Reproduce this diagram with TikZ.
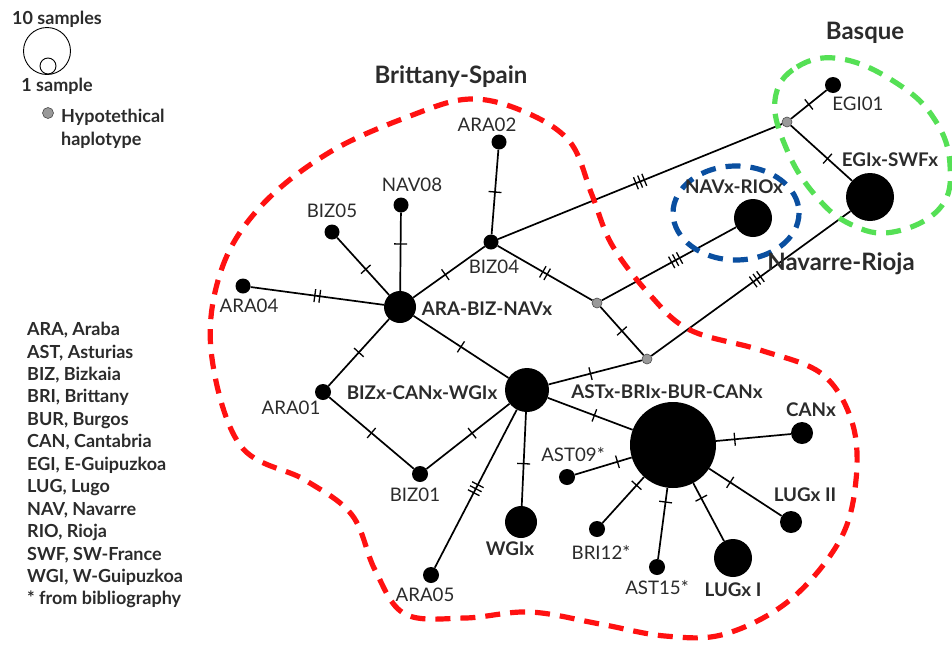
\documentclass[tikz,border=0pt]{standalone}
\usepackage{fontspec}
\setmainfont{Lato}
\usetikzlibrary{decorations.markings}
\definecolor{txt}{HTML}{2B2B2B}
\definecolor{regred}{HTML}{FF1111}
\definecolor{reggreen}{HTML}{55E055}
\definecolor{regblue}{HTML}{0A4FA0}
\pgfdeclarelayer{edgelayer}
\pgfdeclarelayer{regionlayer}
\pgfsetlayers{edgelayer,regionlayer,main}
\begin{document}
\begin{tikzpicture}[x=1pt,y=-1pt,
  hap/.style={circle,fill=black,inner sep=0pt,minimum size=#1},
  hyp/.style={circle,fill=black!40,draw=black!70,line width=0.6pt,inner sep=0pt,minimum size=10pt},
  ln/.style={line width=1.7pt},
  lab/.style={text=txt,font=\fontsize{18.7}{22}\selectfont,inner sep=0pt},
  blab/.style={text=txt,font=\bfseries\fontsize{18.8}{22}\selectfont,inner sep=0pt},
  reglab/.style={text=txt,font=\bfseries\fontsize{24}{28}\selectfont,inner sep=0pt},
  legtxt/.style={text=txt,font=\bfseries\fontsize{18}{22}\selectfont,inner sep=0pt},
  tkA/.style={postaction={decorate,decoration={markings,mark=at position #1 with {\draw[line width=1.3pt] (0,-6.5)--(0,6.5);}}}},
  tkA/.default=0.5,
  tkB/.style={postaction={decorate,decoration={markings,mark=at position #1 with {\draw[line width=1.3pt] (-2.5,-6.5)--(-2.5,6.5) (2.5,-6.5)--(2.5,6.5);}}}},
  tkB/.default=0.5,
  tkC/.style={postaction={decorate,decoration={markings,mark=at position #1 with {\draw[line width=1.3pt] (-4.5,-6.5)--(-4.5,6.5) (0,-6.5)--(0,6.5) (4.5,-6.5)--(4.5,6.5);}}}},
  tkC/.default=0.5,
  region/.style={line width=5.2pt,dash pattern=on 15pt off 10pt}
]
\useasboundingbox (0,0) rectangle (952,646);

% haplotype nodes
\node[hap=15pt] (ara02) at (499,142) {};
\node[hap=15pt] (nav08) at (401,205) {};
\node[hap=15pt] (biz05) at (332,232) {};
\node[hap=15pt] (ara04) at (243,286) {};
\node[hap=32pt] (abn) at (400,307) {};
\node[hap=15pt] (biz04) at (491,242) {};
\node[hyp] (h1) at (597,303) {};
\node[hyp] (h2) at (647,359) {};
\node[hyp] (h3) at (787,122) {};
\node[hap=16pt] (egi01) at (833,85) {};
\node[hap=48pt] (egix) at (870,197) {};
\node[hap=38pt] (navrio) at (753,218) {};
\node[hap=16pt] (ara01) at (323,392) {};
\node[hap=44pt] (bcw) at (527,390) {};
\node[hap=16pt] (biz01) at (420,474) {};
\node[hap=16pt] (ara05) at (431,575) {};
\node[hap=32pt] (wgix) at (521,522) {};
\node[hap=86pt] (abbc) at (673,445) {};
\node[hap=22pt] (canx) at (802,433) {};
\node[hap=22pt] (lug2) at (791,522) {};
\node[hap=38pt] (lug1) at (733,558) {};
\node[hap=16pt] (ast15) at (657,567) {};
\node[hap=16pt] (bri12) at (597,529) {};
\node[hap=16pt] (ast09) at (567,477) {};

% edges
\begin{pgfonlayer}{edgelayer}
\draw[ln,tkA] (biz04) -- (ara02);
\draw[ln,tkA=0.6] (abn) -- (nav08);
\draw[ln,tkA=0.45] (abn) -- (biz05);
\draw[ln,tkB] (abn) -- (ara04);
\draw[ln,tkA=0.45] (abn) -- (biz04);
\draw[ln,tkC] (biz04) -- (h3);
\draw[ln,tkB] (biz04) -- (h1);
\draw[ln,tkC=0.55] (h1) -- (navrio);
\draw[ln,tkA] (h1) -- (h2);
\draw[ln,tkC=0.53] (h2) -- (egix);
\draw[ln,tkA] (h3) -- (egi01);
\draw[ln,tkA=0.6] (h3) -- (egix);
\draw[ln,tkA] (abn) -- (ara01);
\draw[ln,tkA] (abn) -- (bcw);
\draw[ln,tkA] (ara01) -- (biz01);
\draw[ln,tkA=0.55] (biz01) -- (bcw);
\draw[ln,tkC] (bcw) -- (ara05);
\draw[ln,tkA=0.55] (bcw) -- (wgix);
\draw[ln,tkA=0.45] (bcw) -- (h2);
\draw[ln,tkA=0.55] (bcw) -- (abbc);
\draw[ln,tkA=0.25] (abbc) -- (ast09);
\draw[ln,tkA=0.18] (abbc) -- (bri12);
\draw[ln,tkA=0.2] (abbc) -- (ast15);
\draw[ln,tkA=0.26] (abbc) -- (lug1);
\draw[ln,tkA=0.29] (abbc) -- (lug2);
\draw[ln,tkA=0.25] (abbc) -- (canx);
\end{pgfonlayer}

% regions
\begin{pgfonlayer}{regionlayer}
\draw[region,regred] plot[smooth cycle,tension=0.6] coordinates {
  (211,350) (222,268) (262,205) (330,152) (410,116) (470,99) (525,112)
  (570,142) (592,195) (612,245) (650,295) (690,330) (760,350) (822,374)
  (852,422) (856,480) (840,540) (790,600) (725,634) (665,636) (600,624)
  (530,612) (465,618) (405,614) (375,570) (352,515) (305,480) (240,445)};
\draw[region,reggreen] plot[smooth cycle,tension=0.7] coordinates {
  (775,100) (797,67) (842,59) (898,84) (935,120) (950,165) (940,208)
  (893,232) (850,224) (815,195) (787,150)};
\draw[region,regblue] (736,213) ellipse[x radius=63,y radius=47];
\end{pgfonlayer}

% labels
\node[lab] at (487,125) {ARA02};
\node[lab] at (412,185) {NAV08};
\node[lab] at (332,211) {BIZ05};
\node[lab] at (249,306) {ARA04};
\node[lab] at (494,267) {BIZ04};
\node[lab] at (291,408) {ARA01};
\node[lab] at (415,495) {BIZ01};
\node[lab] at (425,595) {ARA05};
\node[lab] at (573,455) {AST09*};
\node[lab] at (601,552) {BRI12*};
\node[lab] at (657,588) {AST15*};
\node[lab] at (858,104) {EGI01};
\node[blab] at (487,309) {ARA-BIZ-NAVx};
\node[blab] at (422,393) {BIZx-CANx-WGIx};
\node[blab] at (667,392) {ASTx-BRIx-BUR-CANx};
\node[blab] at (510,549) {WGIx};
\node[blab] at (733,590) {LUGx I};
\node[blab] at (811,410) {CANx};
\node[blab] at (805,495) {LUGx II};
\node[blab] at (890,160) {EGIx-SWFx};
\node[blab] at (734,187) {NAVx-RIOx};
\node[reglab] at (841,264) {Navarre-Rioja};
\node[reglab] at (451,77) {Brittany-Spain};
\node[reglab] at (865,33) {Basque};

% legend
\node[legtxt] (l10) at (57,19) {10 samples};
\node[circle,draw=black,line width=0.9pt,minimum size=47pt,inner sep=0pt] (lbig) at (47,51) {};
\node[circle,draw=black,fill=white,line width=0.9pt,minimum size=16pt,inner sep=0pt] (lsmall) at (48,66) {};
\node[legtxt] (l1) at (57,86) {1 sample};
\node[hyp,minimum size=11pt] (lhyp) at (48,113) {};
\node[legtxt,font=\bfseries\fontsize{18}{23}\selectfont,anchor=north west,align=left] (lhyptxt) at (61,109) {Hypotethical\\haplotype};
\node[legtxt,font=\bfseries\fontsize{18}{22.45}\selectfont,anchor=north west,align=left] (abbr) at (27,322) {ARA, Araba\\AST, Asturias\\BIZ, Bizkaia\\BRI, Brittany\\BUR, Burgos\\CAN, Cantabria\\EGI, E-Guipuzkoa\\LUG, Lugo\\NAV, Navarre\\RIO, Rioja\\SWF, SW-France\\WGI, W-Guipuzkoa\\* from bibliography};
\end{tikzpicture}
\end{document}
